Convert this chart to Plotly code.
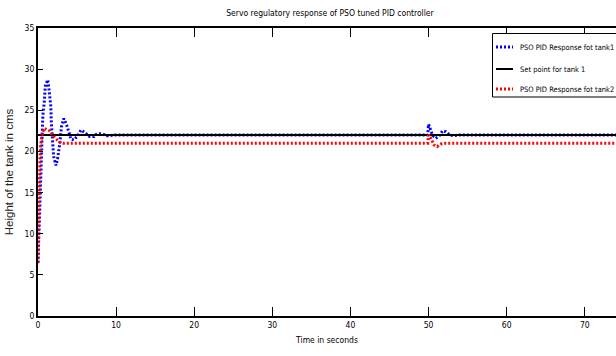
import plotly.graph_objects as go

# Tank 1 (blue) response
t1 = [0, 0.2, 0.4, 0.6, 0.68, 0.8, 0.93, 1.24, 1.4, 1.55, 1.64, 1.7, 1.87, 2.0, 2.3, 2.5, 2.8, 3.0, 3.3,
      3.67, 3.97, 4.2, 4.6, 5.08, 5.5, 6.0, 6.6, 7.2, 7.6, 8.3, 8.8, 9.5, 10, 20, 30, 40, 49.9,
      50.0, 50.2, 50.5, 50.9, 51.3, 51.8, 52.2, 52.7, 53.2, 54, 60, 70, 80]
y1 = [6.5, 13, 19, 23.9, 25, 25.9, 27.9, 28.7, 27.6, 26.6, 25.5, 23.6, 21.5, 19.4, 18.3, 19.1, 21, 23, 24,
      23.2, 22.3, 21.5, 21.4, 21.9, 22.6, 22.3, 21.8, 21.8, 22.2, 22.1, 21.9, 22.0, 22.0, 22, 22, 22, 22,
      23.3, 22.8, 22.0, 21.6, 21.8, 22.5, 22.4, 22.0, 21.9, 22, 22, 22, 22]

# Set point
ts = [0, 80]
ys = [22, 22]

# Tank 2 (red) response
t2 = [0, 0.05, 0.15, 0.3, 0.45, 0.6, 0.8, 1.1, 1.5, 1.9, 2.4, 2.8, 3.2, 10, 20, 30, 40, 49.9,
      50.0, 50.3, 50.7, 51.1, 51.6, 52.2, 60, 70, 80]
y2 = [6.4, 10, 14.9, 20.6, 21.8, 22.4, 22.8, 22.7, 22.5, 21.9, 21.4, 21.1, 21.0, 21, 21, 21, 21, 21,
      22, 21.6, 20.8, 20.6, 20.9, 21, 21, 21, 21]

xticks = [0, 10, 20, 30, 40, 50, 60, 70]
yticks = [0, 5, 10, 15, 20, 25, 30, 35]

names = ["PSO PID Response fot tank1", "Set point for tank 1", "PSO PID Response fot tank2"]
colors = ["#0000ff", "black", "#ff0000"]
dashes = ["2px,2px", "solid", "2px,2px"]
widths = [3, 2, 3]

narrow = "DejaVu Sans Condensed, Liberation Sans Narrow, sans-serif"
W, H = 616, 356
L, R, T, B = 38, 0, 28, 40
pw, ph = W - L - R, H - T - B

def px(x):
    return (x - L) / pw

def py(y):
    return (H - B - y) / ph

fig = go.Figure()
for xs, ys_, nm, c, d, w in zip([t1, ts, t2], [y1, ys, y2], names, colors, dashes, widths):
    fig.add_trace(go.Scatter(x=xs, y=ys_, mode="lines", name=nm, showlegend=False,
                             line=dict(color=c, width=w, dash=d)))

# manual legend (box partly cut off at the right edge, as in the source image)
shapes = [dict(type="rect", xref="paper", yref="paper", x0=px(492.5), x1=px(660), y0=py(97), y1=py(33.5),
               line=dict(color="black", width=1), fillcolor="white", layer="above")]
annotations = []
rows = [47, 69, 89]
for r, nm, c, d, w in zip(rows, names, colors, dashes, widths):
    shapes.append(dict(type="line", xref="paper", yref="paper", x0=px(496), x1=px(513), y0=py(r), y1=py(r),
                       line=dict(color=c, width=w, dash=d if d != "solid" else None), layer="above"))
    annotations.append(dict(xref="paper", yref="paper", x=px(518), y=py(r), xanchor="left", yanchor="middle",
                            text=nm, showarrow=False, font=dict(family=narrow, size=7.5, color="black")))

fig.update_layout(
    width=W, height=H,
    margin=dict(l=L, r=R, t=T, b=B, autoexpand=False),
    paper_bgcolor="white", plot_bgcolor="white",
    font=dict(family=narrow, size=8.5, color="black"),
    title=dict(text="Servo regulatory response of PSO tuned PID controller",
               x=330 / W, xanchor="center", y=1 - 13 / H, yanchor="middle",
               font=dict(family=narrow, size=8.5)),
    showlegend=False,
    shapes=shapes,
    annotations=annotations,
)
fig.update_xaxes(range=[0, 74], tickvals=xticks, ticks="inside", ticklen=9, tickcolor="black", tickwidth=1,
                 showline=True, linecolor="black", linewidth=2, mirror="ticks",
                 showgrid=False, zeroline=False,
                 title=dict(text="Time in seconds", standoff=8, font=dict(family=narrow, size=8.5)))
fig.update_yaxes(range=[0, 35], tickvals=yticks, ticks="inside", ticklen=5, tickcolor="black", tickwidth=1,
                 showline=True, linecolor="black", linewidth=2, mirror=False,
                 showgrid=False, zeroline=False,
                 title=dict(text="Height of the tank in cms", standoff=9,
                            font=dict(family="Liberation Sans, Arial, sans-serif", size=11.5, color="#222222")))

fig.write_html("out.html")
